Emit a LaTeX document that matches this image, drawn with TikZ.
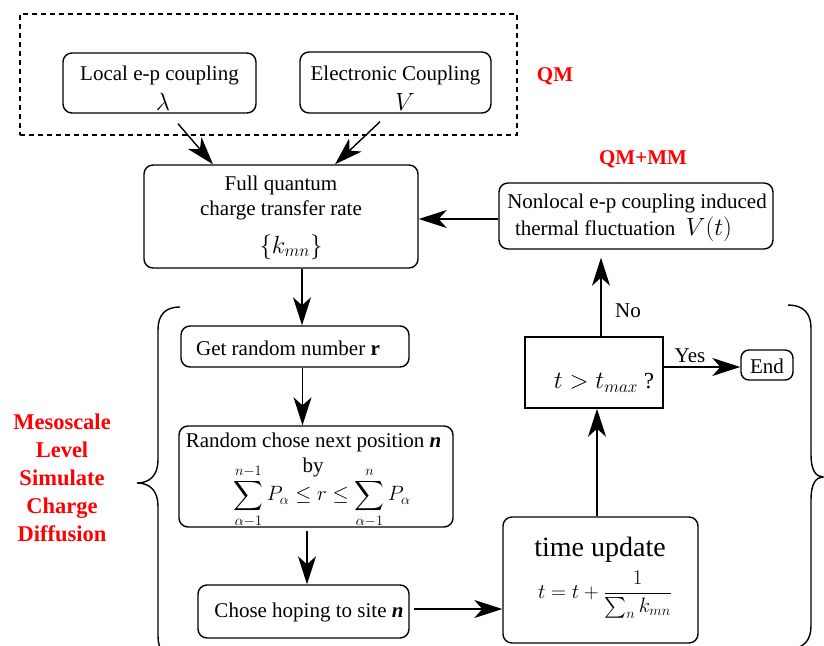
\documentclass[tikz,border=0pt]{standalone}
\usepackage{amsmath}
\usepackage{fontspec}
\setmainfont{Liberation Serif}
\usetikzlibrary{arrows.meta,calc}
\definecolor{qmred}{RGB}{255,0,0}
\begin{document}
\begin{tikzpicture}[x=1pt,y=-1pt,
  every node/.style={font=\fontsize{21}{25}\selectfont, inner sep=0pt},
  box/.style={draw, line width=1.4pt, rounded corners=9pt},
  arr/.style={line width=1.4pt, -{Stealth[length=28pt,width=18pt,inset=8pt]}},
  lbl/.style={text=qmred, font=\fontsize{21}{25}\selectfont\bfseries},
  brace/.style={line width=1.4pt}]
\useasboundingbox (0,0) rectangle (824,645);

% QM group
\node[draw, line width=1.4pt, dash pattern=on 5pt off 4pt, minimum width=497pt, minimum height=121pt] (qmbox) at (268.5,74.5) {};
\node[box, minimum width=193pt, minimum height=60pt] (local) at (159.5,83) {};
\node (localt) at (159.5,75) {Local e-p coupling};
\node (lambda) at (163,102) {\fontsize{25}{25}\selectfont$\lambda$};
\node[box, minimum width=191pt, minimum height=61pt] (elec) at (395.5,82.5) {};
\node (elect) at (395.5,75) {Electronic Coupling};
\node (vv) at (405,102) {\fontsize{25}{25}\selectfont$V$};
\node[lbl] (qm) at (555,76) {QM};

% full quantum
\node[box, minimum width=274pt, minimum height=103pt] (full) at (281,216.5) {};
\node (fullt1) at (281,185) {Full quantum};
\node (fullt2) at (281,210) {charge transfer rate};
\node (kmn) at (291,247) {\fontsize{26}{26}\selectfont$\{k_{mn}\}$};

% nonlocal
\node[box, minimum width=274pt, minimum height=66pt] (nonlocal) at (636,216) {};
\node (nlt1) at (637,203) {Nonlocal e-p coupling induced};
\node (nlt2) at (623.5,229) {thermal fluctuation\ \ {\fontsize{26}{26}\selectfont$V(t)$}};
\node[lbl] (qmmm) at (643,159) {QM+MM};

% mesoscale loop
\node[box, minimum width=228pt, minimum height=41pt] (getr) at (295,346.5) {};
\node (getrt) at (288,348) {Get random number \textbf{r}};

\node[box, minimum width=274pt, minimum height=101pt] (rand) at (316,476.5) {};
\node (randt) at (313.5,442) {Random chose next position \textbf{\textit{n}}};
\node (by) at (313,467) {by};
\node (sumf) at (322,496) {\fontsize{20}{24}\selectfont$\displaystyle\sum_{\alpha-1}^{n-1}P_\alpha \le r\le \sum_{\alpha-1}^{n}P_\alpha$};

\node[box, minimum width=211pt, minimum height=53pt] (chose) at (303.5,611.5) {};
\node (choset) at (309,612) {Chose hoping to site \textbf{\textit{n}}};

\node[box, minimum width=195pt, minimum height=126pt] (timeup) at (600.5,580) {};
\node (tut) at (600,550) {\fontsize{28}{30}\selectfont time update};
\node (tuf) at (605,595) {\fontsize{22}{26}\selectfont$t=t+\dfrac{1}{\sum_n k_{mn}}$};

\node[draw, line width=1.4pt, minimum width=138pt, minimum height=71pt] (tmax) at (594,372.5) {};
\node (tmaxt) at (604,383) {\fontsize{23}{26}\selectfont$t>t_{max}$ ?};

\node[box, rounded corners=8pt, minimum width=52pt, minimum height=30pt] (endn) at (767,365) {};
\node (endt) at (767,366) {End};

\node (no) at (628,311) {No};
\node (yes) at (690,356) {Yes};

\node[text=qmred, align=center, font=\fontsize{22.5}{28}\selectfont\bfseries] (meso) at (62,478) {Mesoscale\\Level\\Simulate\\Charge\\Diffusion};

% connectors
\draw[arr] ($(local.south)+(18.5,10)$) -- ($(full.north)+(-68,0)$);
\draw[arr] ($(elec.south)+(-15.5,8)$) -- ($(full.north)+(54,0)$);
\draw[arr] ($(nonlocal.west)+(0,3)$) -- ($(full.east)+(0,2.5)$);
\draw[arr] ($(full.south)+(21,0)$) -- ($(getr.north)+(7,0)$);
\draw[arr] ($(getr.south)+(7.5,0)$) -- ($(rand.north)+(-13.5,0)$);
\draw[arr] ($(rand.south)+(-9,3)$) -- ($(chose.north)+(3.5,0)$);
\draw[arr] ($(chose.east)+(4,-2.5)$) -- ($(timeup.west)+(0,29)$);
\draw[arr] ($(timeup.north)+(-3.5,0)$) -- ($(tmax.south)+(3,0)$);
\draw[arr, shorten >=8pt] ($(tmax.north)+(7,0)$) -- ($(nonlocal.south)+(-35,0)$);
\draw[arr] ($(tmax.east)+(0,-5.5)$) -- ($(endn.west)+(0,2)$);

% braces
\draw[brace] (180,307) .. controls (165,307) and (158,315) .. (158,330) -- (158,460)
  .. controls (158,475) and (150,483) .. (137,483)
  .. controls (150,483) and (158,491) .. (158,506) -- (158,636)
  .. controls (158,651) and (165,659) .. (180,659);
\draw[brace] (788,305) .. controls (803,305) and (811,313) .. (811,328) -- (811,455)
  .. controls (811,470) and (816,477) .. (823,477)
  .. controls (816,477) and (811,484) .. (811,499) -- (811,626)
  .. controls (811,641) and (803,649) .. (788,649);
\end{tikzpicture}
\end{document}
